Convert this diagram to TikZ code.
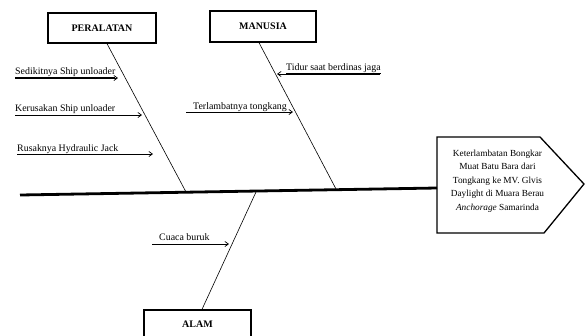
\documentclass[tikz,border=0pt]{standalone}
\usepackage{fontspec}
\setmainfont{Liberation Serif}
\usetikzlibrary{arrows.meta}
\begin{document}
\begin{tikzpicture}[x=1pt,y=-1pt,
  catbox/.style={draw,line width=1.3pt,minimum width=108pt,minimum height=30pt,inner sep=0pt,font=\fontsize{10}{12}\selectfont\bfseries},
  bone/.style={line width=0.6pt},
  cause/.style={anchor=base west,inner sep=0pt,font=\fontsize{9.9}{11}\selectfont},
  carrow/.style={line width=0.7pt,-{Straight Barb[length=3.5pt,width=5pt]}},
  spine/.style={line width=2.8pt},
  effbox/.style={line width=1.3pt,line join=miter}]
\useasboundingbox (0,0) rectangle (588,335);
\fill[white] (0,0) rectangle (588,335);

% category boxes
\node[catbox] (per) at (102,28) {PERALATAN};
\node[catbox,minimum width=106pt,minimum height=31pt] (man) at (263,26.5) {MANUSIA};
\node[catbox,minimum width=107pt,minimum height=28pt] (alam) at (197.5,324) {ALAM};

% spine and effect
\coordinate (tail) at (20,195);
\coordinate (head) at (437,188);
\draw[spine] (tail) -- (head);
\coordinate (e1) at (437,137);
\coordinate (e2) at (540,137);
\coordinate (e3) at (584,184);
\coordinate (e4) at (544,233);
\coordinate (e5) at (437,233);
\draw[effbox] (e1) -- (e2) -- (e3) -- (e4) -- (e5) -- cycle;
\node[align=center,inner sep=0pt,font=\fontsize{9.3}{13.5}\selectfont] (eff) at (497.5,181)
  {Keterlambatan Bongkar\\Muat Batu Bara dari\\Tongkang ke MV. Glvis\\Daylight di Muara Berau\\\textit{Anchorage} Samarinda};

% bones
\coordinate (pb) at (186,192);
\coordinate (mb) at (336,189);
\coordinate (ab) at (256,192);
\draw[bone] ([xshift=5pt]per.south) -- (pb);
\draw[bone] ([xshift=-4pt]man.south) -- (mb);
\draw[bone] ([xshift=4.5pt]alam.north) -- (ab);

% causes: PERALATAN
\node[cause] (c1) at (15,74) {\underline{Sedikitnya Ship unloader}};
\coordinate (c1a) at (15,78); \coordinate (c1b) at (118,78);
\draw[carrow] (c1a) -- (c1b);
\node[cause] (c2) at (15,111.5) {\underline{Kerusakan Ship unloader}};
\coordinate (c2a) at (15,115); \coordinate (c2b) at (142,115);
\draw[carrow] (c2a) -- (c2b);
\node[cause] (c3) at (17,151) {\underline{Rusaknya Hydraulic Jack}};
\coordinate (c3a) at (17,154); \coordinate (c3b) at (153,154);
\draw[carrow] (c3a) -- (c3b);

% causes: MANUSIA
\node[cause] (c4) at (286,70) {\underline{Tidur saat berdinas jaga}};
\coordinate (c4a) at (380,74); \coordinate (c4b) at (277,74);
\draw[carrow] (c4a) -- (c4b);
\node[cause] (c5) at (193,109) {\underline{Terlambatnya tongkang}};
\coordinate (c5a) at (186,112); \coordinate (c5b) at (293,112);
\draw[carrow] (c5a) -- (c5b);

% causes: ALAM
\node[cause] (c6) at (159,240) {Cuaca buruk};
\coordinate (c6a) at (152,244); \coordinate (c6b) at (229,244);
\draw[carrow] (c6a) -- (c6b);
\end{tikzpicture}
\end{document}
